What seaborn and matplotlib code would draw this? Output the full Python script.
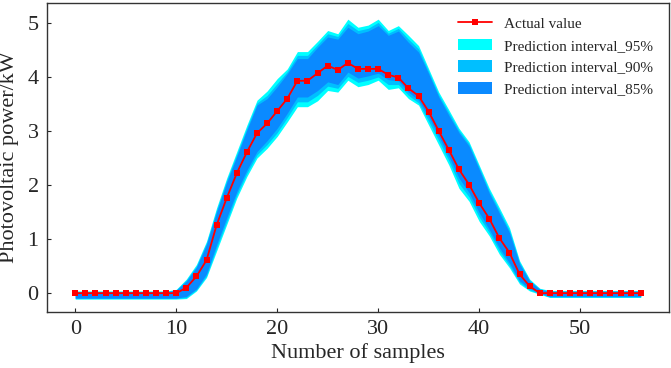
import numpy as np
import pandas as pd
import matplotlib
matplotlib.use("Agg")
import matplotlib.pyplot as plt
import seaborn as sns

# sample index 0..56
samples = list(range(57))

actual = [0.00, 0.00, 0.00, 0.00, 0.00, 0.00, 0.00, 0.00, 0.00, 0.00,
          0.00, 0.10, 0.31, 0.61, 1.26, 1.76, 2.22, 2.61, 2.96, 3.14,
          3.37, 3.60, 3.93, 3.93, 4.07, 4.21, 4.13, 4.26, 4.15, 4.15,
          4.15, 4.04, 3.99, 3.79, 3.65, 3.36, 3.00, 2.65, 2.29, 2.01,
          1.67, 1.38, 1.02, 0.75, 0.35, 0.13, 0.00, 0.00, 0.00, 0.00,
          0.00, 0.00, 0.00, 0.00, 0.00, 0.00, 0.00]

upper_95 = [0.04, 0.04, 0.04, 0.04, 0.04, 0.04, 0.04, 0.04, 0.04, 0.04,
            0.07, 0.26, 0.53, 0.96, 1.58, 2.13, 2.62, 3.11, 3.57, 3.74,
            3.97, 4.15, 4.47, 4.47, 4.66, 4.86, 4.80, 5.07, 4.92, 4.96,
            5.07, 4.86, 4.95, 4.77, 4.58, 4.15, 3.72, 3.39, 3.05, 2.80,
            2.37, 1.94, 1.58, 1.21, 0.60, 0.26, 0.09, 0.05, 0.05, 0.05,
            0.05, 0.05, 0.05, 0.05, 0.05, 0.05, 0.05]
lower_95 = [-0.11, -0.11, -0.11, -0.11, -0.11, -0.11, -0.11, -0.11, -0.11, -0.11,
            -0.11, -0.10, 0.04, 0.29, 0.78, 1.27, 1.76, 2.16, 2.50, 2.68,
            2.90, 3.17, 3.45, 3.45, 3.56, 3.75, 3.72, 3.94, 3.82, 3.86,
            3.94, 3.77, 3.80, 3.60, 3.48, 3.11, 2.74, 2.37, 1.94, 1.70,
            1.33, 1.06, 0.72, 0.47, 0.17, 0.04, -0.02, -0.08, -0.08, -0.08,
            -0.08, -0.08, -0.08, -0.08, -0.08, -0.08, -0.08]

upper_90 = [0.03, 0.03, 0.03, 0.03, 0.03, 0.03, 0.03, 0.03, 0.03, 0.03,
            0.06, 0.24, 0.50, 0.93, 1.54, 2.09, 2.57, 3.06, 3.52, 3.66,
            3.88, 4.10, 4.40, 4.40, 4.60, 4.80, 4.75, 4.99, 4.86, 4.90,
            5.01, 4.81, 4.90, 4.70, 4.52, 4.10, 3.67, 3.34, 3.01, 2.76,
            2.33, 1.89, 1.53, 1.16, 0.57, 0.24, 0.08, 0.04, 0.04, 0.04,
            0.04, 0.04, 0.04, 0.04, 0.04, 0.04, 0.04]
lower_90 = [-0.10, -0.10, -0.10, -0.10, -0.10, -0.10, -0.10, -0.10, -0.10, -0.10,
            -0.10, -0.08, 0.06, 0.32, 0.84, 1.33, 1.82, 2.22, 2.56, 2.75,
            2.97, 3.25, 3.54, 3.54, 3.66, 3.83, 3.79, 4.01, 3.90, 3.94,
            4.00, 3.86, 3.86, 3.66, 3.52, 3.18, 2.82, 2.45, 2.03, 1.78,
            1.41, 1.12, 0.78, 0.51, 0.20, 0.06, -0.01, -0.07, -0.07, -0.07,
            -0.07, -0.07, -0.07, -0.07, -0.07, -0.07, -0.07]

upper_85 = [0.02, 0.02, 0.02, 0.02, 0.02, 0.02, 0.02, 0.02, 0.02, 0.02,
            0.05, 0.22, 0.48, 0.90, 1.50, 2.05, 2.53, 3.02, 3.48, 3.60,
            3.82, 4.06, 4.34, 4.34, 4.55, 4.74, 4.70, 4.92, 4.80, 4.85,
            4.95, 4.77, 4.85, 4.64, 4.46, 4.06, 3.63, 3.29, 2.97, 2.72,
            2.29, 1.85, 1.48, 1.12, 0.54, 0.22, 0.07, 0.03, 0.03, 0.03,
            0.03, 0.03, 0.03, 0.03, 0.03, 0.03, 0.03]
lower_85 = [-0.09, -0.09, -0.09, -0.09, -0.09, -0.09, -0.09, -0.09, -0.09, -0.09,
            -0.09, -0.06, 0.08, 0.36, 0.90, 1.40, 1.88, 2.28, 2.62, 2.82,
            3.05, 3.33, 3.63, 3.63, 3.75, 3.91, 3.86, 4.09, 3.98, 4.02,
            4.07, 3.95, 3.93, 3.72, 3.57, 3.26, 2.90, 2.53, 2.13, 1.86,
            1.49, 1.18, 0.84, 0.56, 0.23, 0.09, 0.00, -0.06, -0.06, -0.06,
            -0.06, -0.06, -0.06, -0.06, -0.06, -0.06, -0.06]

df = pd.DataFrame({"sample": samples, "actual": actual})

sns.set_style("ticks")
plt.rcParams["font.family"] = ["Liberation Serif", "DejaVu Serif"]

fig = plt.figure(figsize=(6.71, 3.68), dpi=100)
ax = fig.add_axes([0.070, 0.152, 0.927, 0.840])

ax.fill_between(samples, lower_95, upper_95, color="#00FFFF", linewidth=0,
                label="Prediction interval_95%")
ax.fill_between(samples, lower_90, upper_90, color="#00BFFF", linewidth=0,
                label="Prediction interval_90%")
ax.fill_between(samples, lower_85, upper_85, color="#0A8AFF", linewidth=0,
                label="Prediction interval_85%")
sns.lineplot(data=df, x="sample", y="actual", ax=ax, color="#FF0000",
             linewidth=1.3, marker="s", markersize=3.8, markeredgewidth=0,
             label="Actual value")

ax.set_xlim(-2.8, 58.8)
ax.set_ylim(-0.35, 5.37)
ax.set_xticks([0, 10, 20, 30, 40, 50])
ax.set_yticks([0, 1, 2, 3, 4, 5])
ax.tick_params(direction="in", length=3, width=0.8, labelsize=16, pad=6)
for s in ax.spines.values():
    s.set_visible(True)
    s.set_linewidth(1.0)
    s.set_color("#333333")

ax.set_xlabel("Number of samples", fontsize=16, labelpad=3)
ax.set_ylabel("Photovoltaic power/kW", fontsize=16, labelpad=6)

handles, labels = ax.get_legend_handles_labels()
order = [3, 0, 1, 2]
ax.legend([handles[i] for i in order], [labels[i] for i in order],
          loc="upper right", bbox_to_anchor=(0.984, 0.975), borderaxespad=0,
          frameon=False, fontsize=11, handlelength=2.2, handleheight=0.8,
          labelspacing=0.5, handletextpad=0.8)

fig.savefig("out.png", dpi=100)
